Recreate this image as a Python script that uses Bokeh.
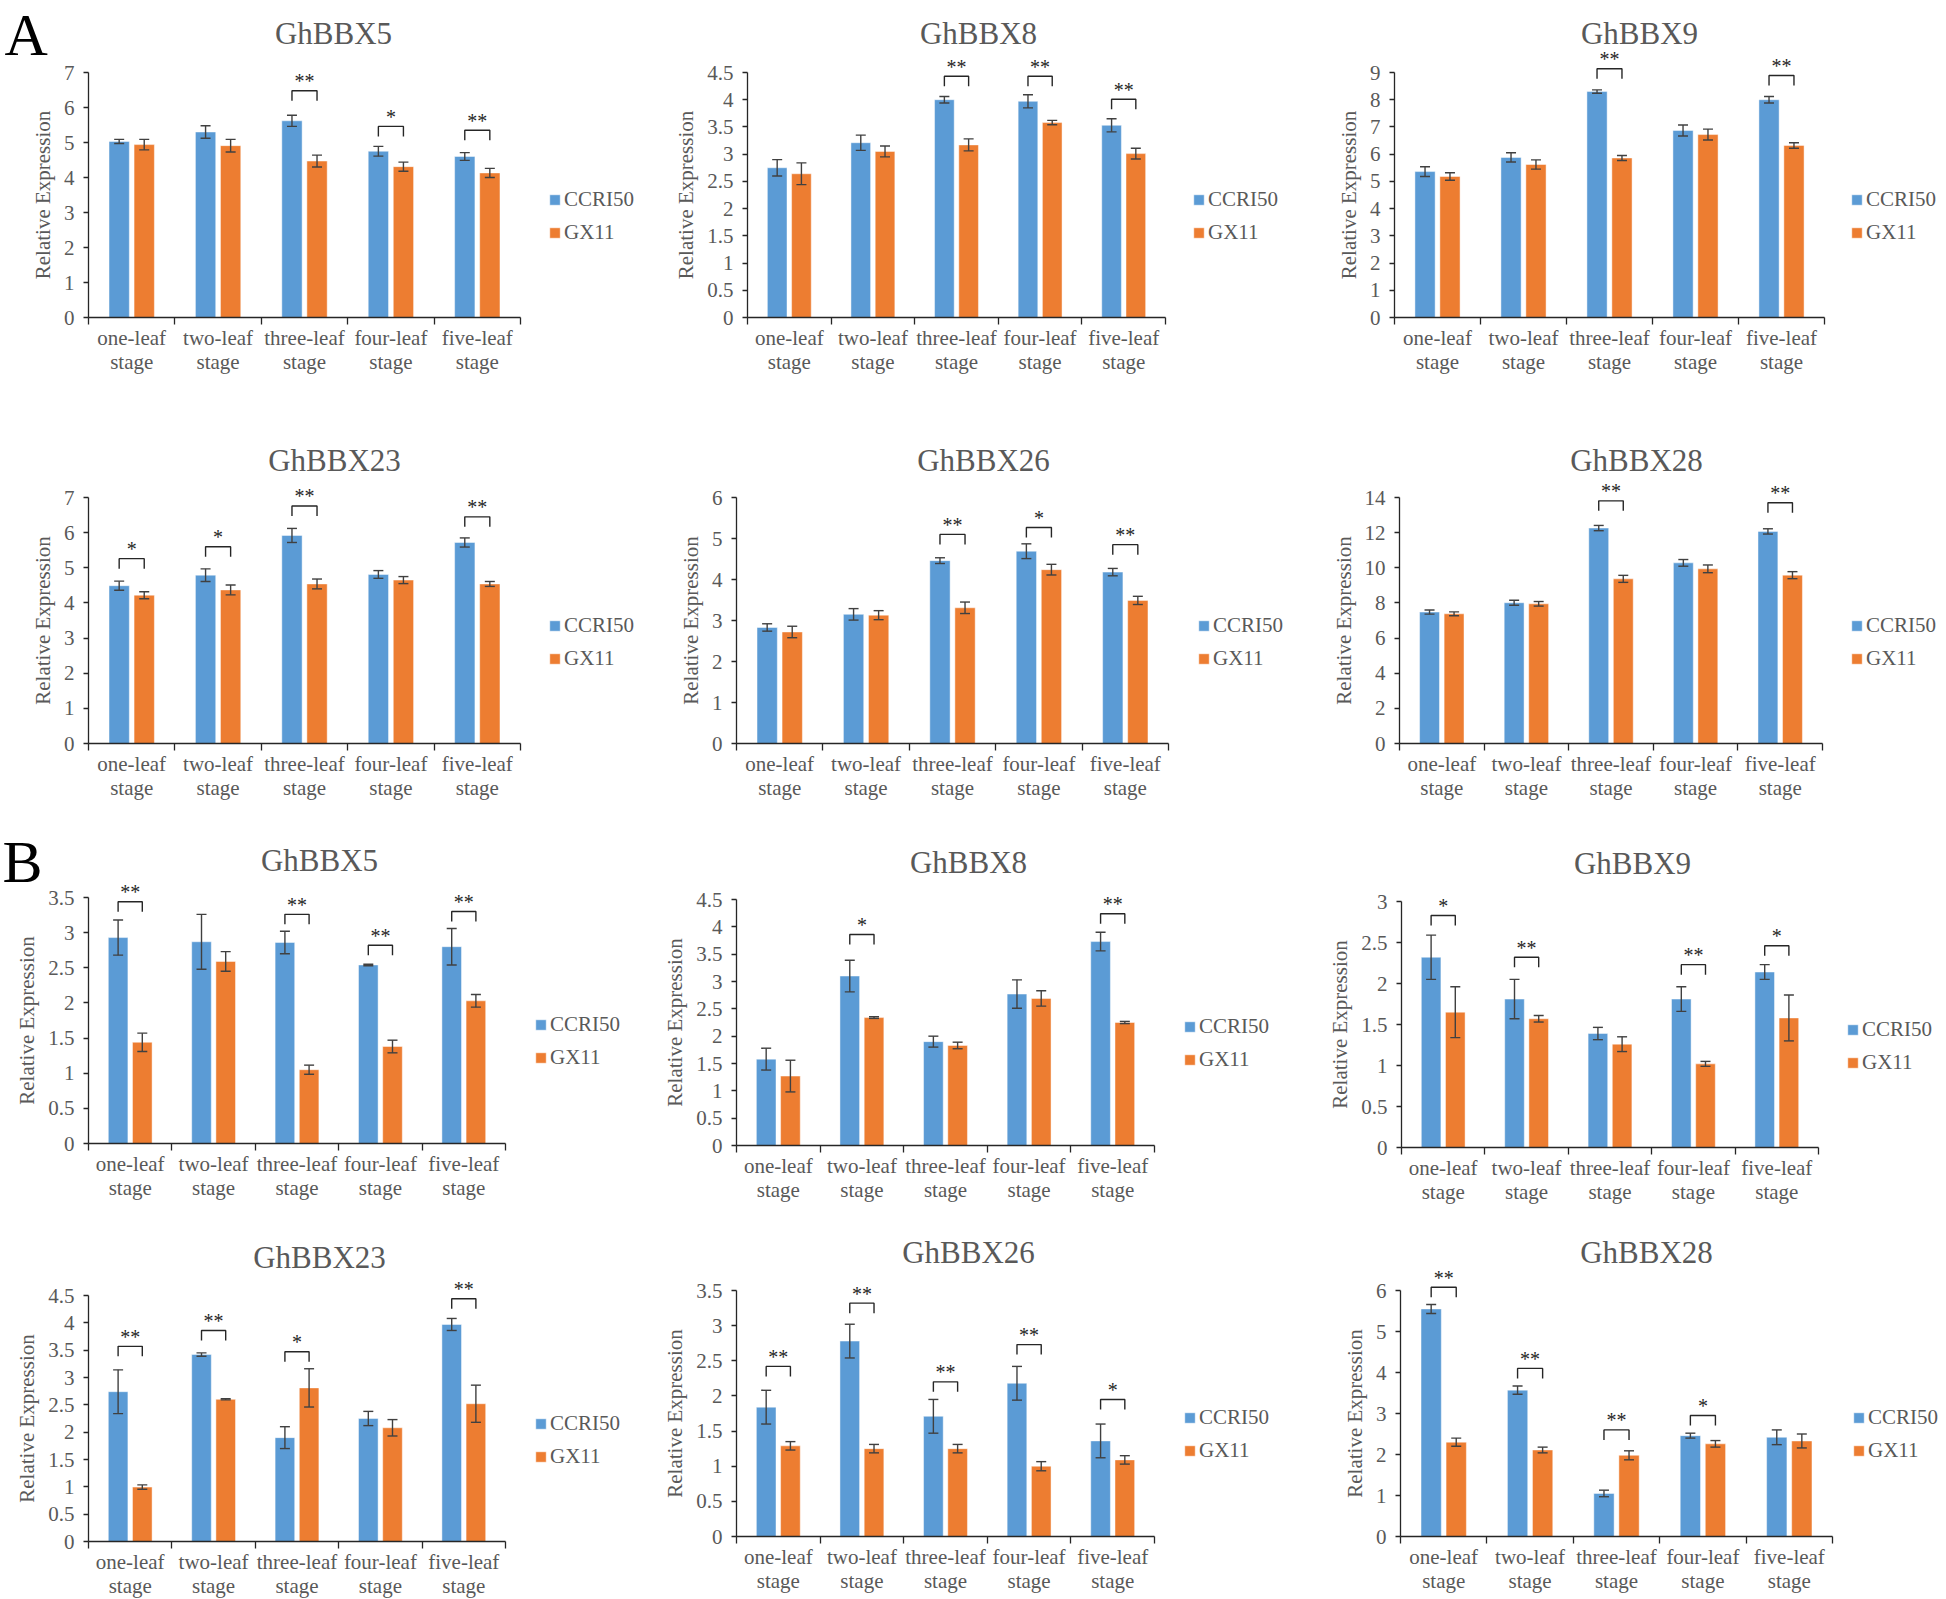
from bokeh.plotting import figure
from bokeh.layouts import row, column
from bokeh.models import (Range1d, FixedTicker, NumeralTickFormatter, Legend, LegendItem,
                          Whisker, ColumnDataSource, TeeHead)
from bokeh.embed import file_html
from bokeh.resources import INLINE
from bokeh.core.properties import value

# ---------------- data ----------------
stages = ["one-leaf\nstage", "two-leaf\nstage", "three-leaf\nstage", "four-leaf\nstage", "five-leaf\nstage"]
series_names = ["CCRI50", "GX11"]

# Panel A
A_BBX5_CCRI50 = [5.03, 5.30, 5.62, 4.75, 4.60]
A_BBX5_CCRI50_ERR = [0.06, 0.18, 0.16, 0.14, 0.11]
A_BBX5_GX11 = [4.94, 4.91, 4.47, 4.31, 4.13]
A_BBX5_GX11_ERR = [0.15, 0.18, 0.17, 0.13, 0.13]
A_BBX5_SIG = [(2, "**", 6.48), (3, "*", 5.46), (4, "**", 5.35)]
A_BBX5_TICKS = [0, 1, 2, 3, 4, 5, 6, 7]

A_BBX8_CCRI50 = [2.75, 3.21, 4.00, 3.97, 3.53]
A_BBX8_CCRI50_ERR = [0.15, 0.14, 0.06, 0.12, 0.12]
A_BBX8_GX11 = [2.64, 3.05, 3.17, 3.58, 3.01]
A_BBX8_GX11_ERR = [0.20, 0.10, 0.11, 0.04, 0.10]
A_BBX8_SIG = [(2, "**", 4.43), (3, "**", 4.43), (4, "**", 4.01)]
A_BBX8_TICKS = [0, 0.5, 1, 1.5, 2, 2.5, 3, 3.5, 4, 4.5]

A_BBX9_CCRI50 = [5.36, 5.88, 8.30, 6.87, 8.00]
A_BBX9_CCRI50_ERR = [0.18, 0.17, 0.06, 0.20, 0.12]
A_BBX9_GX11 = [5.18, 5.62, 5.86, 6.72, 6.32]
A_BBX9_GX11_ERR = [0.14, 0.17, 0.09, 0.20, 0.10]
A_BBX9_SIG = [(2, "**", 9.14), (4, "**", 8.89)]
A_BBX9_TICKS = [0, 1, 2, 3, 4, 5, 6, 7, 8, 9]

A_BBX23_CCRI50 = [4.49, 4.79, 5.92, 4.81, 5.72]
A_BBX23_CCRI50_ERR = [0.13, 0.18, 0.20, 0.11, 0.13]
A_BBX23_GX11 = [4.22, 4.37, 4.54, 4.65, 4.54]
A_BBX23_GX11_ERR = [0.10, 0.14, 0.14, 0.10, 0.07]
A_BBX23_SIG = [(0, "*", 5.26), (1, "*", 5.60), (2, "**", 6.76), (4, "**", 6.45)]
A_BBX23_TICKS = [0, 1, 2, 3, 4, 5, 6, 7]

A_BBX26_CCRI50 = [2.83, 3.15, 4.46, 4.69, 4.18]
A_BBX26_CCRI50_ERR = [0.09, 0.14, 0.07, 0.18, 0.09]
A_BBX26_GX11 = [2.72, 3.13, 3.31, 4.24, 3.49]
A_BBX26_GX11_ERR = [0.14, 0.11, 0.14, 0.13, 0.10]
A_BBX26_SIG = [(2, "**", 5.10), (3, "*", 5.27), (4, "**", 4.85)]
A_BBX26_TICKS = [0, 1, 2, 3, 4, 5, 6]

A_BBX28_CCRI50 = [7.48, 8.01, 12.26, 10.28, 12.07]
A_BBX28_CCRI50_ERR = [0.12, 0.14, 0.15, 0.19, 0.15]
A_BBX28_GX11 = [7.38, 7.95, 9.37, 9.94, 9.58]
A_BBX28_GX11_ERR = [0.11, 0.13, 0.20, 0.22, 0.20]
A_BBX28_SIG = [(2, "**", 13.81), (4, "**", 13.70)]
A_BBX28_TICKS = [0, 2, 4, 6, 8, 10, 12, 14]

# Panel B
B_BBX5_CCRI50 = [2.93, 2.87, 2.86, 2.54, 2.80]
B_BBX5_CCRI50_ERR = [0.25, 0.39, 0.16, 0.01, 0.26]
B_BBX5_GX11 = [1.44, 2.59, 1.05, 1.38, 2.03]
B_BBX5_GX11_ERR = [0.13, 0.14, 0.065, 0.09, 0.09]
B_BBX5_SIG = [(0, "**", 3.44), (2, "**", 3.26), (3, "**", 2.82), (4, "**", 3.30)]
B_BBX5_TICKS = [0, 0.5, 1, 1.5, 2, 2.5, 3, 3.5]

B_BBX8_CCRI50 = [1.58, 3.10, 1.90, 2.77, 3.73]
B_BBX8_CCRI50_ERR = [0.20, 0.29, 0.10, 0.26, 0.17]
B_BBX8_GX11 = [1.27, 2.34, 1.83, 2.69, 2.25]
B_BBX8_GX11_ERR = [0.29, 0.015, 0.06, 0.14, 0.02]
B_BBX8_SIG = [(1, "*", 3.86), (4, "**", 4.24)]
B_BBX8_TICKS = [0, 0.5, 1, 1.5, 2, 2.5, 3, 3.5, 4, 4.5]

B_BBX9_CCRI50 = [2.32, 1.81, 1.39, 1.81, 2.14]
B_BBX9_CCRI50_ERR = [0.27, 0.24, 0.075, 0.15, 0.09]
B_BBX9_GX11 = [1.65, 1.57, 1.26, 1.02, 1.58]
B_BBX9_GX11_ERR = [0.31, 0.04, 0.09, 0.03, 0.28]
B_BBX9_SIG = [(0, "*", 2.83), (1, "**", 2.32), (3, "**", 2.23), (4, "*", 2.46)]
B_BBX9_TICKS = [0, 0.5, 1, 1.5, 2, 2.5, 3]

B_BBX23_CCRI50 = [2.74, 3.42, 1.90, 2.25, 3.97]
B_BBX23_CCRI50_ERR = [0.40, 0.03, 0.20, 0.13, 0.11]
B_BBX23_GX11 = [0.995, 2.60, 2.81, 2.08, 2.52]
B_BBX23_GX11_ERR = [0.04, 0.01, 0.35, 0.15, 0.34]
B_BBX23_SIG = [(0, "**", 3.57), (1, "**", 3.86), (2, "*", 3.47), (4, "**", 4.44)]
B_BBX23_TICKS = [0, 0.5, 1, 1.5, 2, 2.5, 3, 3.5, 4, 4.5]

B_BBX26_CCRI50 = [1.84, 2.78, 1.71, 2.18, 1.36]
B_BBX26_CCRI50_ERR = [0.24, 0.24, 0.24, 0.24, 0.24]
B_BBX26_GX11 = [1.29, 1.25, 1.25, 1.00, 1.09]
B_BBX26_GX11_ERR = [0.06, 0.06, 0.06, 0.065, 0.06]
B_BBX26_SIG = [(0, "**", 2.42), (1, "**", 3.32), (2, "**", 2.20), (3, "**", 2.73), (4, "*", 1.95)]
B_BBX26_TICKS = [0, 0.5, 1, 1.5, 2, 2.5, 3, 3.5]

B_BBX28_CCRI50 = [5.55, 3.57, 1.05, 2.46, 2.42]
B_BBX28_CCRI50_ERR = [0.11, 0.10, 0.08, 0.06, 0.18]
B_BBX28_GX11 = [2.30, 2.11, 1.98, 2.26, 2.33]
B_BBX28_GX11_ERR = [0.10, 0.07, 0.11, 0.08, 0.17]
B_BBX28_SIG = [(0, "**", 6.08), (1, "**", 4.10), (2, "**", 2.60), (3, "*", 2.95)]
B_BBX28_TICKS = [0, 1, 2, 3, 4, 5, 6]

panels = [
    dict(title="GhBBX5", a=A_BBX5_CCRI50, ae=A_BBX5_CCRI50_ERR, b=A_BBX5_GX11, be=A_BBX5_GX11_ERR, sig=A_BBX5_SIG, ticks=A_BBX5_TICKS),
    dict(title="GhBBX8", a=A_BBX8_CCRI50, ae=A_BBX8_CCRI50_ERR, b=A_BBX8_GX11, be=A_BBX8_GX11_ERR, sig=A_BBX8_SIG, ticks=A_BBX8_TICKS),
    dict(title="GhBBX9", a=A_BBX9_CCRI50, ae=A_BBX9_CCRI50_ERR, b=A_BBX9_GX11, be=A_BBX9_GX11_ERR, sig=A_BBX9_SIG, ticks=A_BBX9_TICKS),
    dict(title="GhBBX23", a=A_BBX23_CCRI50, ae=A_BBX23_CCRI50_ERR, b=A_BBX23_GX11, be=A_BBX23_GX11_ERR, sig=A_BBX23_SIG, ticks=A_BBX23_TICKS),
    dict(title="GhBBX26", a=A_BBX26_CCRI50, ae=A_BBX26_CCRI50_ERR, b=A_BBX26_GX11, be=A_BBX26_GX11_ERR, sig=A_BBX26_SIG, ticks=A_BBX26_TICKS),
    dict(title="GhBBX28", a=A_BBX28_CCRI50, ae=A_BBX28_CCRI50_ERR, b=A_BBX28_GX11, be=A_BBX28_GX11_ERR, sig=A_BBX28_SIG, ticks=A_BBX28_TICKS),
    dict(title="GhBBX5", a=B_BBX5_CCRI50, ae=B_BBX5_CCRI50_ERR, b=B_BBX5_GX11, be=B_BBX5_GX11_ERR, sig=B_BBX5_SIG, ticks=B_BBX5_TICKS),
    dict(title="GhBBX8", a=B_BBX8_CCRI50, ae=B_BBX8_CCRI50_ERR, b=B_BBX8_GX11, be=B_BBX8_GX11_ERR, sig=B_BBX8_SIG, ticks=B_BBX8_TICKS),
    dict(title="GhBBX9", a=B_BBX9_CCRI50, ae=B_BBX9_CCRI50_ERR, b=B_BBX9_GX11, be=B_BBX9_GX11_ERR, sig=B_BBX9_SIG, ticks=B_BBX9_TICKS),
    dict(title="GhBBX23", a=B_BBX23_CCRI50, ae=B_BBX23_CCRI50_ERR, b=B_BBX23_GX11, be=B_BBX23_GX11_ERR, sig=B_BBX23_SIG, ticks=B_BBX23_TICKS),
    dict(title="GhBBX26", a=B_BBX26_CCRI50, ae=B_BBX26_CCRI50_ERR, b=B_BBX26_GX11, be=B_BBX26_GX11_ERR, sig=B_BBX26_SIG, ticks=B_BBX26_TICKS),
    dict(title="GhBBX28", a=B_BBX28_CCRI50, ae=B_BBX28_CCRI50_ERR, b=B_BBX28_GX11, be=B_BBX28_GX11_ERR, sig=B_BBX28_SIG, ticks=B_BBX28_TICKS),
]

# ---------------- layout / style ----------------
FONT = "Liberation Serif"
TXT = "#595959"
INK = "#262626"
ERR = "#404040"
BLUE = "#5B9BD5"
ORANGE = "#ED7D31"

COL_X = [0, 650, 1300, 1946]
ROW_Y = [0, 420, 820, 1220, 1599]
BW, OFF = 0.235, 0.145
LEG_PX, STAR_PX = 10, 9.5

# row, col, axis-left, axis-right, top-tick y, zero y, title cx, title cy, legend x, legend 2nd item cy
GEOM = [
    (0, 0, 88, 520, 72, 317, 333, 33, 548, 233),
    (0, 1, 747, 1165, 72, 317, 978, 33, 1192, 233),
    (0, 2, 1394, 1824, 72, 317, 1639, 33, 1850, 233),
    (1, 0, 88, 520, 497, 743, 334, 460, 548, 659),
    (1, 1, 736, 1168, 497, 743, 983, 460, 1197, 659),
    (1, 2, 1399, 1822, 497, 743, 1636, 460, 1850, 659),
    (2, 0, 88, 505, 897, 1143, 319, 860, 534, 1058),
    (2, 1, 736, 1154, 899, 1145, 968, 862, 1183, 1060),
    (2, 2, 1401, 1818, 901, 1147, 1632, 863, 1846, 1063),
    (3, 0, 88, 505, 1295, 1541, 319, 1257, 534, 1457),
    (3, 1, 736, 1154, 1290, 1536, 968, 1252, 1183, 1451),
    (3, 2, 1400, 1832, 1290, 1536, 1646, 1252, 1852, 1451),
]
# panel index -> (letter, left x, vertical centre y)
LETTERS = {0: ("A", 4, 34), 6: ("B", 2, 861)}


def build(k, pd, g):
    r, c, fx0, fx1, ytop, y0, tcx, tcy, lx, lcy2 = g
    cx0, cx1 = COL_X[c], COL_X[c + 1]
    ry0, ry1 = ROW_Y[r], ROW_Y[r + 1]
    n = len(stages)
    top = pd["ticks"][-1]
    ppx = (fx1 - fx0) / n
    ppu = (y0 - ytop) / top
    W, H = cx1 - cx0, ry1 - ry0
    p = figure(frame_width=W, frame_height=H,
               min_border_left=0, min_border_right=0, min_border_top=0, min_border_bottom=0,
               x_range=Range1d((cx0 - fx0) / ppx, (cx1 - fx0) / ppx),
               y_range=Range1d((y0 - ry1) / ppu, (y0 - ry0) / ppu),
               output_backend="svg", toolbar_location=None, title=None)
    p.outline_line_color = None
    p.xgrid.visible = False
    p.ygrid.visible = False
    p.background_fill_color = "white"
    p.border_fill_color = "white"

    ya = p.yaxis[0]
    ya.fixed_location = 0
    ya.ticker = FixedTicker(ticks=pd["ticks"])
    ya.formatter = NumeralTickFormatter(format="0.[0]")
    ya.bounds = (0, top)
    ya.axis_label = "Relative Expression"
    ya.axis_label_text_font = FONT
    ya.axis_label_text_font_size = "21px"
    ya.axis_label_text_font_style = "normal"
    ya.axis_label_text_color = TXT
    ya.axis_label_standoff = 6
    ya.major_label_text_font = FONT
    ya.major_label_text_font_size = "21px"
    ya.major_label_text_color = TXT
    ya.major_label_standoff = 9
    ya.major_tick_out = 5
    ya.major_tick_in = 0
    ya.minor_tick_out = 0
    ya.minor_tick_in = 0
    ya.axis_line_color = INK
    ya.axis_line_width = 1.3
    ya.major_tick_line_color = INK
    ya.major_tick_line_width = 1.3

    xa = p.xaxis[0]
    xa.fixed_location = 0
    centers = [i + 0.5 for i in range(n)]
    xa.ticker = FixedTicker(ticks=centers, minor_ticks=list(range(n + 1)))
    xa.major_label_overrides = {centers[i]: stages[i] for i in range(n)}
    xa.bounds = (0, n)
    xa.major_tick_out = 0
    xa.major_tick_in = 0
    xa.minor_tick_out = 7
    xa.minor_tick_in = 0
    xa.minor_tick_line_color = INK
    xa.minor_tick_line_width = 1.3
    xa.axis_line_color = INK
    xa.axis_line_width = 1.6
    xa.major_label_text_font = FONT
    xa.major_label_text_font_size = "21px"
    xa.major_label_text_color = TXT
    xa.major_label_text_line_height = 1.0
    xa.major_label_standoff = 1

    xb = [x - OFF for x in centers]
    xo = [x + OFF for x in centers]
    sb = ColumnDataSource(dict(x=xb, top=pd["a"],
                               up=[v + e for v, e in zip(pd["a"], pd["ae"])],
                               lo=[v - e for v, e in zip(pd["a"], pd["ae"])]))
    so = ColumnDataSource(dict(x=xo, top=pd["b"],
                               up=[v + e for v, e in zip(pd["b"], pd["be"])],
                               lo=[v - e for v, e in zip(pd["b"], pd["be"])]))
    rb = p.vbar(x="x", top="top", width=BW, source=sb, fill_color=BLUE,
                line_color="white", line_alpha=0.45, line_width=1)
    ro = p.vbar(x="x", top="top", width=BW, source=so, fill_color=ORANGE,
                line_color="white", line_alpha=0.45, line_width=1)
    for src in (sb, so):
        w = Whisker(source=src, base="x", upper="up", lower="lo", dimension="height",
                    line_color=ERR, line_width=1.4, level="annotation",
                    upper_head=TeeHead(size=10, line_color=ERR, line_width=1.4),
                    lower_head=TeeHead(size=10, line_color=ERR, line_width=1.4))
        p.add_layout(w)

    # significance brackets
    bxs, bys, tx, ty, tt = [], [], [], [], []
    for (i, mark, h) in pd["sig"]:
        l = h - LEG_PX / ppu
        bxs.append([xb[i], xb[i], xo[i], xo[i]])
        bys.append([l, h, h, l])
        tx.append(centers[i])
        ty.append(h)
        tt.append(mark)
    p.multi_line(bxs, bys, line_color=INK, line_width=1.4)
    p.text(x=tx, y=ty, text=tt, text_font=value(FONT), text_font_size="20px",
           text_color=INK, text_align="center", text_baseline="middle",
           y_offset=-STAR_PX)

    # chart title
    p.text(x=[(tcx - fx0) / ppx], y=[(y0 - tcy) / ppu], text=[pd["title"]],
           text_font=value(FONT), text_font_size="31px", text_color=TXT,
           text_align="center", text_baseline="middle")

    leg = Legend(items=[LegendItem(label=series_names[0], renderers=[rb]),
                        LegendItem(label=series_names[1], renderers=[ro])],
                 location=(lx - cx0, ry1 - (lcy2 + 11.5)), orientation="vertical",
                 glyph_width=13, glyph_height=13, label_height=20, spacing=8,
                 padding=0, margin=0, border_line_color=None, background_fill_alpha=0,
                 label_text_font=FONT, label_text_font_size="21px",
                 label_text_color=TXT, label_standoff=3)
    p.add_layout(leg)

    if k in LETTERS:
        letter, lxp, lcy = LETTERS[k]
        p.text(x=[(lxp - fx0) / ppx], y=[(y0 - lcy) / ppu], text=[letter],
               text_font=value(FONT), text_font_size="60px", text_color="black",
               text_align="left", text_baseline="middle")
    return p


figs = [build(k, pd, g) for k, (pd, g) in enumerate(zip(panels, GEOM))]
layout = column(row(*figs[0:3]), row(*figs[3:6]), row(*figs[6:9]), row(*figs[9:12]))

open("out.html", "w").write(file_html(layout, INLINE))
